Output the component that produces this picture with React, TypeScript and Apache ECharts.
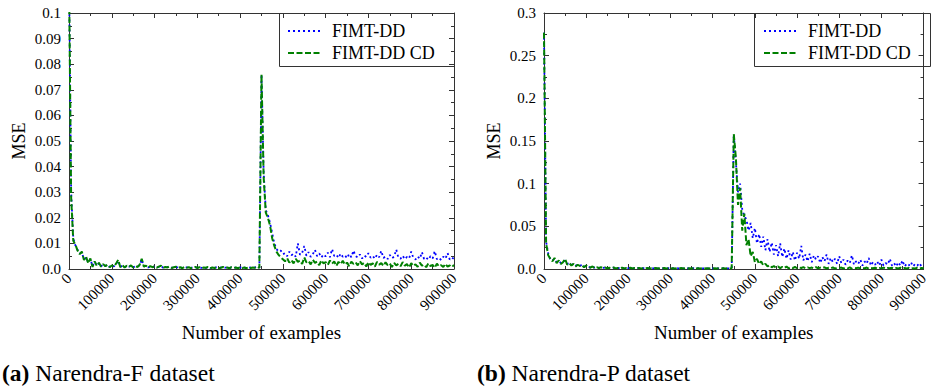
import React, { useEffect, useRef } from 'react';
import * as echarts from 'echarts';

const STEP = 5000;
const FONT = 'Liberation Serif';
const NAMES = ['FIMT-DD', 'FIMT-DD CD'];

// Narendra-F : FIMT-DD (blue, dotted)
const F_FIMT = [
  0.115, 0.030, 0.012, 0.0092, 0.0075, 0.0061, 0.0064, 0.0038, 0.0045, 0.0025,
  0.0039, 0.0011, 0.0028, 0.0014, 0.0022, 0.0010, 0.0018, 0.0012, 0.0016, 0.0008,
  0.0013, 0.0010, 0.0019, 0.0033, 0.0008, 0.0014, 0.0007, 0.0012, 0.0009, 0.0013,
  0.0007, 0.0010, 0.0009, 0.0015, 0.0037, 0.0010, 0.0012, 0.0006, 0.0010, 0.0008,
  0.0009, 0.0006, 0.0008, 0.0012, 0.0005, 0.0007, 0.0007, 0.0009, 0.0005, 0.0006,
  0.0008, 0.0005, 0.0006, 0.0004, 0.0007, 0.0006, 0.0006, 0.0004, 0.0007, 0.0007,
  0.0005, 0.0006, 0.0004, 0.0007, 0.0004, 0.0007, 0.0004, 0.0005, 0.0005, 0.0006,
  0.0004, 0.0006, 0.0007, 0.0005, 0.0005, 0.0004, 0.0006, 0.0005, 0.0005, 0.0004,
  0.0006, 0.0005, 0.0005, 0.0004, 0.0007, 0.0005, 0.0005, 0.0006, 0.0008, 0.0005,
  0.076, 0.038, 0.023, 0.021, 0.018, 0.014, 0.010, 0.0078, 0.0068, 0.0072,
  0.0058, 0.0062, 0.0050, 0.0068, 0.0054, 0.0060, 0.0048, 0.0100, 0.0055, 0.0063,
  0.0090, 0.0052, 0.0066, 0.0047, 0.0058, 0.0075, 0.0050, 0.0061, 0.0045, 0.0057,
  0.0049, 0.0064, 0.0046, 0.0078, 0.0051, 0.0056, 0.0043, 0.0060, 0.0048, 0.0054,
  0.0042, 0.0059, 0.0046, 0.0072, 0.0050, 0.0045, 0.0057, 0.0041, 0.0053, 0.0047,
  0.0062, 0.0044, 0.0051, 0.0040, 0.0056, 0.0046, 0.0071, 0.0043, 0.0049, 0.0039,
  0.0055, 0.0042, 0.0048, 0.0076, 0.0044, 0.0040, 0.0052, 0.0038, 0.0047, 0.0041,
  0.0068, 0.0043, 0.0037, 0.0049, 0.0040, 0.0066, 0.0039, 0.0045, 0.0036, 0.0050,
  0.0041, 0.0070, 0.0038, 0.0044, 0.0035, 0.0048, 0.0040, 0.0062, 0.0037, 0.0045,
  0.0039,
];

// Narendra-F : FIMT-DD CD (green, dashed)
const F_FIMT_CD = [
  0.115, 0.028, 0.011, 0.0095, 0.0072, 0.0058, 0.0068, 0.0035, 0.0048, 0.0022,
  0.0041, 0.0008, 0.0030, 0.0012, 0.0024, 0.0009, 0.0019, 0.0011, 0.0017, 0.0007,
  0.0014, 0.0009, 0.0021, 0.0036, 0.0007, 0.0015, 0.0006, 0.0013, 0.0008, 0.0014,
  0.0006, 0.0011, 0.0008, 0.0016, 0.0040, 0.0009, 0.0013, 0.0005, 0.0011, 0.0007,
  0.0010, 0.0005, 0.0009, 0.0013, 0.0004, 0.0008, 0.0006, 0.0010, 0.0004, 0.0007,
  0.0009, 0.0004, 0.0007, 0.0003, 0.0008, 0.0005, 0.0007, 0.0003, 0.0006, 0.0008,
  0.0004, 0.0007, 0.0003, 0.0006, 0.0005, 0.0008, 0.0003, 0.0006, 0.0004, 0.0007,
  0.0003, 0.0005, 0.0008, 0.0004, 0.0006, 0.0003, 0.0007, 0.0004, 0.0006, 0.0003,
  0.0007, 0.0004, 0.0006, 0.0003, 0.0008, 0.0004, 0.0006, 0.0005, 0.0009, 0.0004,
  0.076, 0.036, 0.022, 0.020, 0.017, 0.012, 0.009, 0.0068, 0.0055, 0.0045,
  0.0038, 0.0030, 0.0042, 0.0025, 0.0035, 0.0022, 0.0040, 0.0028, 0.0033, 0.0020,
  0.0045, 0.0026, 0.0031, 0.0018, 0.0036, 0.0024, 0.0029, 0.0015, 0.0034, 0.0022,
  0.0027, 0.0016, 0.0033, 0.0021, 0.0030, 0.0012, 0.0028, 0.0019, 0.0032, 0.0017,
  0.0025, 0.0011, 0.0029, 0.0020, 0.0026, 0.0014, 0.0031, 0.0018, 0.0024, 0.0010,
  0.0027, 0.0016, 0.0022, 0.0009, 0.0028, 0.0017, 0.0023, 0.0012, 0.0026, 0.0015,
  0.0021, 0.0008, 0.0024, 0.0014, 0.0020, 0.0011, 0.0027, 0.0013, 0.0019, 0.0006,
  0.0023, 0.0012, 0.0018, 0.0009, 0.0025, 0.0013, 0.0017, 0.0007, 0.0022, 0.0011,
  0.0016, 0.0005, 0.0021, 0.0010, 0.0015, 0.0008, 0.0020, 0.0009, 0.0014, 0.0007,
  0.0016,
];

// Narendra-P : FIMT-DD (blue, dotted)
const P_FIMT = [
  0.277, 0.032, 0.018, 0.011, 0.010, 0.012, 0.008, 0.009, 0.007, 0.008,
  0.010, 0.006, 0.007, 0.005, 0.006, 0.004, 0.005, 0.004, 0.0045, 0.0025,
  0.0038, 0.0028, 0.0018, 0.0028, 0.0015, 0.002, 0.0013, 0.0019, 0.0014, 0.0017,
  0.001, 0.0014, 0.0012, 0.0016, 0.0009, 0.0012, 0.001, 0.0015, 0.0008, 0.0011,
  0.001, 0.0013, 0.0008, 0.001, 0.0009, 0.0012, 0.0007, 0.001, 0.0009, 0.0011,
  0.0008, 0.001, 0.0008, 0.0011, 0.0007, 0.0009, 0.0008, 0.001, 0.0007, 0.0009,
  0.0008, 0.0009, 0.0007, 0.0009, 0.0008, 0.001, 0.0007, 0.0008, 0.0007, 0.0009,
  0.0007, 0.0009, 0.0007, 0.0009, 0.0007, 0.0008, 0.0007, 0.0009, 0.0007, 0.0008,
  0.0007, 0.0008, 0.0007, 0.0008, 0.0007, 0.0009, 0.0007, 0.0008, 0.0007, 0.0008,
  0.158, 0.125, 0.09, 0.10, 0.07, 0.062, 0.058, 0.045, 0.054, 0.036,
  0.048, 0.030, 0.041, 0.026, 0.038, 0.022, 0.035, 0.020, 0.031, 0.017,
  0.028, 0.015, 0.030, 0.014, 0.024, 0.012, 0.022, 0.011, 0.020, 0.010,
  0.019, 0.012, 0.027, 0.010, 0.017, 0.009, 0.018, 0.008, 0.016, 0.011,
  0.015, 0.007, 0.014, 0.009, 0.017, 0.006, 0.013, 0.008, 0.012, 0.006,
  0.015, 0.007, 0.011, 0.005, 0.010, 0.007, 0.016, 0.005, 0.009, 0.006,
  0.011, 0.004, 0.009, 0.006, 0.013, 0.004, 0.008, 0.005, 0.009, 0.004,
  0.011, 0.004, 0.007, 0.005, 0.012, 0.004, 0.007, 0.003, 0.008, 0.004,
  0.010, 0.003, 0.006, 0.004, 0.008, 0.003, 0.006, 0.004, 0.007, 0.003,
  0.005,
];

// Narendra-P : FIMT-DD CD (green, dashed)
const P_FIMT_CD = [
  0.277, 0.030, 0.016, 0.012, 0.009, 0.013, 0.007, 0.010, 0.006, 0.008,
  0.012, 0.005, 0.007, 0.004, 0.006, 0.003, 0.005, 0.0035, 0.0045, 0.002,
  0.004, 0.0025, 0.0015, 0.003, 0.0012, 0.0022, 0.001, 0.002, 0.0012, 0.0018,
  0.0008, 0.0015, 0.001, 0.0018, 0.0007, 0.0013, 0.0009, 0.0016, 0.0006, 0.0012,
  0.0009, 0.0014, 0.0006, 0.0011, 0.0008, 0.0013, 0.0005, 0.001, 0.0008, 0.0012,
  0.0006, 0.001, 0.0007, 0.0012, 0.0005, 0.0009, 0.0007, 0.0011, 0.0005, 0.0009,
  0.0006, 0.001, 0.0005, 0.0009, 0.0007, 0.0011, 0.0005, 0.0008, 0.0006, 0.001,
  0.0005, 0.0009, 0.0006, 0.001, 0.0005, 0.0008, 0.0006, 0.0009, 0.0005, 0.0008,
  0.0006, 0.0009, 0.0005, 0.0008, 0.0006, 0.0009, 0.0005, 0.0008, 0.0006, 0.0008,
  0.158, 0.13, 0.075, 0.095, 0.045, 0.065, 0.028, 0.035, 0.015, 0.020,
  0.008, 0.012, 0.006, 0.009, 0.004, 0.006, 0.003, 0.0045, 0.002, 0.0035,
  0.0015, 0.003, 0.001, 0.0025, 0.0012, 0.0028, 0.0008, 0.002, 0.0011, 0.0024,
  0.0009, 0.0018, 0.0012, 0.0022, 0.0007, 0.0019, 0.001, 0.0017, 0.0006, 0.0021,
  0.0009, 0.0016, 0.0011, 0.002, 0.0006, 0.0015, 0.0009, 0.0018, 0.0005, 0.0014,
  0.001, 0.0017, 0.0006, 0.0015, 0.0008, 0.0019, 0.0005, 0.0013, 0.0009, 0.0016,
  0.0006, 0.0014, 0.0008, 0.0017, 0.0005, 0.0012, 0.0009, 0.0015, 0.0004, 0.0013,
  0.0007, 0.0016, 0.0005, 0.0012, 0.0008, 0.0014, 0.0004, 0.0011, 0.0007, 0.0015,
  0.0005, 0.0012, 0.0007, 0.0013, 0.0004, 0.001, 0.0006, 0.0014, 0.0005, 0.0011,
  0.0008,
];

const X_MAX = 900000;
const X_INTERVAL = 100000;
const F_Y_MAX = 0.1;
const F_Y_INTERVAL = 0.01;
const P_Y_MAX = 0.3;
const P_Y_INTERVAL = 0.05;

const toPairs = (vals: number[]) => vals.map((v, i) => [i * STEP, v]);

const AXIS_COLOR = '#333';
const BLUE = '#0000ff';
const GREEN = '#008000';

const fmtY = (v: number) => (v === 0 ? '0.0' : String(+v.toFixed(3)));
const fmtX = (v: number) => String(Math.round(v));

function xAxes(gridIndex: number) {
  const common = {
    type: 'value',
    gridIndex,
    min: 0,
    max: X_MAX,
    interval: X_INTERVAL,
    splitLine: { show: false },
    axisLine: { show: true, onZero: false, lineStyle: { color: AXIS_COLOR, width: 1 } },
    axisTick: { show: true, inside: true, length: 5, lineStyle: { color: AXIS_COLOR } },
    minorTick: { show: true, splitNumber: 2, length: 3, lineStyle: { color: AXIS_COLOR } },
  };
  return [
    {
      ...common,
      position: 'bottom',
      axisLabel: { rotate: 45, margin: 7, fontFamily: FONT, fontSize: 15, color: '#000', formatter: fmtX },
      name: 'Number of examples',
      nameLocation: 'middle',
      nameGap: 54,
      nameTextStyle: { fontFamily: FONT, fontSize: 19, color: '#000' },
    },
    { ...common, position: 'top', axisLabel: { show: false } },
  ];
}

function yAxes(gridIndex: number, max: number, interval: number) {
  const common = {
    type: 'value',
    gridIndex,
    min: 0,
    max,
    interval,
    splitLine: { show: false },
    axisLine: { show: true, onZero: false, lineStyle: { color: AXIS_COLOR, width: 1 } },
    axisTick: { show: true, inside: true, length: 5, lineStyle: { color: AXIS_COLOR } },
    minorTick: { show: true, splitNumber: 2, length: 3, lineStyle: { color: AXIS_COLOR } },
  };
  return [
    {
      ...common,
      position: 'left',
      axisLabel: { margin: 8, fontFamily: FONT, fontSize: 15, color: '#000', formatter: fmtY },
      name: 'MSE',
      nameLocation: 'middle',
      nameGap: 41,
      nameTextStyle: { fontFamily: FONT, fontSize: 18, color: '#000' },
    },
    { ...common, position: 'right', axisLabel: { show: false } },
  ];
}

function lineSeries(name: string, vals: number[], axisIndex: number, blue: boolean) {
  return {
    type: 'line',
    name,
    xAxisIndex: axisIndex,
    yAxisIndex: axisIndex,
    data: toPairs(vals),
    symbol: 'none',
    showSymbol: false,
    clip: true,
    z: blue ? 2 : 3,
    itemStyle: { color: blue ? BLUE : GREEN },
    lineStyle: blue
      ? { color: BLUE, width: 1.8, type: [2, 3] }
      : { color: GREEN, width: 2, type: [6, 2.5] },
  };
}

function legendAt(left: number) {
  return {
    data: NAMES,
    orient: 'vertical',
    left,
    top: 22,
    padding: 0,
    itemWidth: 33,
    itemHeight: 14,
    itemGap: 4,
    selectedMode: false,
    itemStyle: { opacity: 0 },
    textStyle: { fontFamily: FONT, fontSize: 18, color: '#000', padding: [0, 0, 0, 6] },
  };
}

export default function App() {
  const ref = useRef<HTMLDivElement>(null);
  useEffect(() => {
    document.body.style.margin = '0';
    if (!ref.current) return;
    const chart = echarts.init(ref.current, undefined, { renderer: 'svg' });
    chart.setOption({
      animation: false,
      backgroundColor: '#fff',
      textStyle: { fontFamily: FONT },
      grid: [
        { left: 69, top: 13, width: 385, height: 256 },
        { left: 544, top: 13, width: 386, height: 256 },
      ],
      xAxis: [...xAxes(0), ...xAxes(1)],
      yAxis: [...yAxes(0, F_Y_MAX, F_Y_INTERVAL), ...yAxes(1, P_Y_MAX, P_Y_INTERVAL)],
      legend: [legendAt(287), legendAt(763)],
      series: [
        lineSeries(NAMES[0], F_FIMT, 0, true),
        lineSeries(NAMES[1], F_FIMT_CD, 0, false),
        lineSeries(NAMES[0], P_FIMT, 2, true),
        lineSeries(NAMES[1], P_FIMT_CD, 2, false),
      ],
      graphic: [
        {
          type: 'rect',
          shape: { x: 279.5, y: 13.5, width: 175, height: 53 },
          style: { fill: 'transparent', stroke: AXIS_COLOR, lineWidth: 1 },
          z: 10,
        },
        {
          type: 'rect',
          shape: { x: 754.5, y: 13.5, width: 176, height: 53 },
          style: { fill: 'transparent', stroke: AXIS_COLOR, lineWidth: 1 },
          z: 10,
        },
        {
          type: 'text',
          x: 2,
          y: 373,
          style: {
            text: '{b|(a)} Narendra-F dataset',
            fontFamily: FONT,
            fontSize: 23.5,
            fill: '#000',
            verticalAlign: 'middle',
            rich: { b: { fontFamily: FONT, fontSize: 23.5, fontWeight: 'bold', fill: '#000' } },
          },
        },
        {
          type: 'text',
          x: 477,
          y: 373,
          style: {
            text: '{b|(b)} Narendra-P dataset',
            fontFamily: FONT,
            fontSize: 23.5,
            fill: '#000',
            verticalAlign: 'middle',
            rich: { b: { fontFamily: FONT, fontSize: 23.5, fontWeight: 'bold', fill: '#000' } },
          },
        },
      ],
    });
    return () => chart.dispose();
  }, []);
  return <div ref={ref} style={{ width: 931, height: 387 }} />;
}
